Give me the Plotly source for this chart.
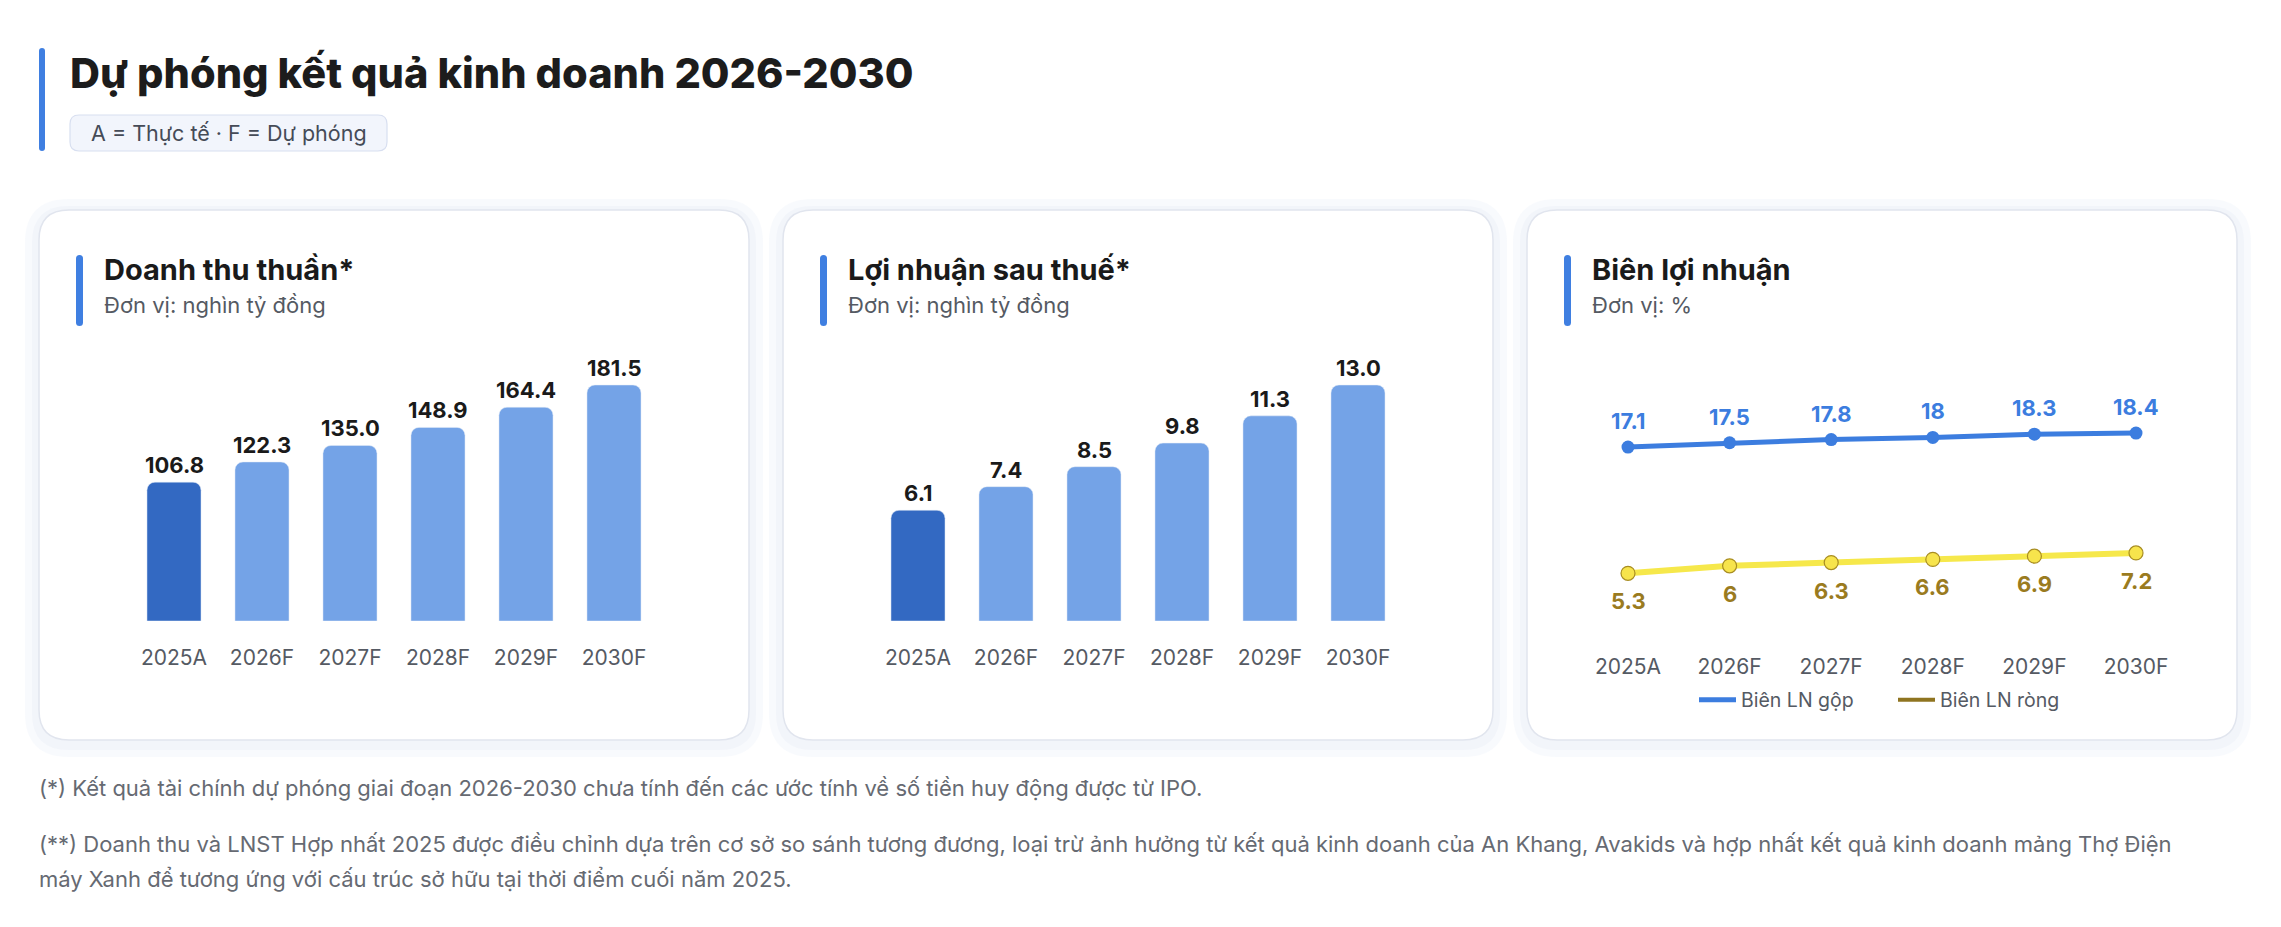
import plotly.graph_objects as go

W, H = 2281, 927

# ---------------- data ----------------
years = ["2025A", "2026F", "2027F", "2028F", "2029F", "2030F"]
revenue = [106.8, 122.3, 135.0, 148.9, 164.4, 181.5]
profit = [6.1, 7.4, 8.5, 9.8, 11.3, 13.0]
gross_margin = [17.1, 17.5, 17.8, 18, 18.3, 18.4]
net_margin = [5.3, 6, 6.3, 6.6, 6.9, 7.2]

main_title = "Dự phóng kết quả kinh doanh 2026-2030"
badge_text = "A = Thực tế · F = Dự phóng"
card_titles = ["Doanh thu thuần*", "Lợi nhuận sau thuế*", "Biên lợi nhuận"]
card_units = ["Đơn vị: nghìn tỷ đồng", "Đơn vị: nghìn tỷ đồng", "Đơn vị: %"]
series_names = ["Biên LN gộp", "Biên LN ròng"]
footnote_lines = [
    "(*) Kết quả tài chính dự phóng giai đoạn 2026-2030 chưa tính đến các ước tính về số tiền huy động được từ IPO.",
    "(**) Doanh thu và LNST Hợp nhất 2025 được điều chỉnh dựa trên cơ sở so sánh tương đương, loại trừ ảnh hưởng từ "
    "kết quả kinh doanh của An Khang, Avakids và hợp nhất kết quả kinh doanh mảng Thợ Điện",
    "máy Xanh để tương ứng với cấu trúc sở hữu tại thời điểm cuối năm 2025.",
]

# ---------------- styles ----------------
FONT = "Inter"
DARK_BAR = "#3369c2"
LIGHT_BAR = "#74a3e7"
ACCENT = "#3f7fe1"
BLUE = "#3c7ddf"
YELLOW = "#f6e84b"
GOLD = "#9a7b1f"
GOLD_LEG = "#8f7420"


def px(x):
    return x / W


def py(y):
    return 1 - y / H


def rrect(x0, y0, x1, y1, r):
    rx, ry = r / W, r / H
    X0, X1, Y0, Y1 = px(x0), px(x1), py(y0), py(y1)
    return (f"M{X0+rx},{Y0} L{X1-rx},{Y0} Q{X1},{Y0} {X1},{Y0-ry} "
            f"L{X1},{Y1+ry} Q{X1},{Y1} {X1-rx},{Y1} L{X0+rx},{Y1} "
            f"Q{X0},{Y1} {X0},{Y1+ry} L{X0},{Y0-ry} Q{X0},{Y0} {X0+rx},{Y0} Z")


fig = go.Figure()

# bars
bar_colors = [DARK_BAR if y.endswith("A") else LIGHT_BAR for y in years]
fig.add_trace(go.Bar(x=years, y=revenue, marker=dict(color=bar_colors, cornerradius=8),
                     xaxis="x", yaxis="y", showlegend=False, hoverinfo="skip"))
fig.add_trace(go.Bar(x=years, y=profit, marker=dict(color=bar_colors, cornerradius=8),
                     xaxis="x2", yaxis="y2", showlegend=False, hoverinfo="skip"))

# lines
fig.add_trace(go.Scatter(x=years, y=gross_margin, mode="lines", name=series_names[0],
                         line=dict(color=BLUE, width=5), xaxis="x3", yaxis="y3",
                         hoverinfo="skip"))
fig.add_trace(go.Scatter(x=years, y=net_margin, mode="lines", name=series_names[1],
                         line=dict(color=GOLD_LEG, width=4), xaxis="x3", yaxis="y3",
                         hoverinfo="skip"))
fig.add_trace(go.Scatter(x=years, y=net_margin, mode="lines", showlegend=False,
                         line=dict(color=YELLOW, width=6), xaxis="x3", yaxis="y3",
                         hoverinfo="skip"))
fig.add_trace(go.Scatter(x=years, y=gross_margin, mode="markers", showlegend=False,
                         marker=dict(color=BLUE, size=13), xaxis="x3", yaxis="y3",
                         hoverinfo="skip"))
fig.add_trace(go.Scatter(x=years, y=net_margin, mode="markers", showlegend=False,
                         marker=dict(color="#f7e44c", size=14, line=dict(color="#a88d22", width=1.2)),
                         xaxis="x3", yaxis="y3", hoverinfo="skip"))

annotations = []
# value labels
for xs, ys, ax in [(years, revenue, ""), (years, profit, "2")]:
    for x, v in zip(xs, ys):
        annotations.append(dict(x=x, y=v, xref="x" + ax, yref="y" + ax, text=f"{v:.1f}",
                                showarrow=False, yanchor="middle", yshift=17,
                                font=dict(family=FONT, size=22, color="#1a1a1a", weight=700)))
for x, v in zip(years, gross_margin):
    annotations.append(dict(x=x, y=v, xref="x3", yref="y3", text=f"{v:g}", showarrow=False,
                            yanchor="middle", yshift=26,
                            font=dict(family=FONT, size=22, color=BLUE, weight=700)))
for x, v in zip(years, net_margin):
    annotations.append(dict(x=x, y=v, xref="x3", yref="y3", text=f"{v:g}", showarrow=False,
                            yanchor="middle", yshift=-28,
                            font=dict(family=FONT, size=22, color=GOLD, weight=700)))

# titles / text
annotations.append(dict(x=px(68), y=py(73), xref="paper", yref="paper", text=main_title,
                        showarrow=False, xanchor="left", yanchor="middle",
                        font=dict(family=FONT, size=41.5, color="#1c1c1c", weight=800)))
annotations.append(dict(x=px(228.5), y=py(133), xref="paper", yref="paper", text=badge_text,
                        showarrow=False, xanchor="center", yanchor="middle",
                        font=dict(family=FONT, size=21.5, color="#454b57")))
for i in range(3):
    off = i * 744
    annotations.append(dict(x=px(102 + off), y=py(269), xref="paper", yref="paper",
                            text=card_titles[i], showarrow=False, xanchor="left", yanchor="middle",
                            font=dict(family=FONT, size=29, color="#1a1a1a", weight=700)))
    annotations.append(dict(x=px(102 + off), y=py(305), xref="paper", yref="paper",
                            text=card_units[i], showarrow=False, xanchor="left", yanchor="middle",
                            font=dict(family=FONT, size=22, color="#555a63")))
for line, yy in zip(footnote_lines, [788, 844, 879]):
    annotations.append(dict(x=px(37), y=py(yy), xref="paper", yref="paper", text=line,
                            showarrow=False, xanchor="left", yanchor="middle", align="left",
                            font=dict(family=FONT, size=22, color="#666a72")))

# shapes
shapes = []
for i in range(3):
    x0 = 39 + i * 744
    x1 = x0 + 710
    for e, c in [(14, "rgba(240,243,250,0.45)"), (7, "rgba(236,240,248,0.55)")]:
        shapes.append(dict(type="path", path=rrect(x0 - e, 210 - e + 3, x1 + e, 740 + e + 3, 30 + e),
                           xref="paper", yref="paper", fillcolor=c, line=dict(width=0), layer="below"))
    shapes.append(dict(type="path", path=rrect(x0, 210, x1, 740, 30), xref="paper", yref="paper",
                       fillcolor="white", line=dict(color="#e1e5ee", width=1.5), layer="below"))
    shapes.append(dict(type="path", path=rrect(x0 + 37, 255, x0 + 44, 326, 3.5), xref="paper",
                       yref="paper", fillcolor=ACCENT, line=dict(width=0), layer="below"))
# main accent
shapes.append(dict(type="path", path=rrect(39, 48, 45, 151, 3), xref="paper", yref="paper",
                   fillcolor=ACCENT, line=dict(width=0), layer="below"))
# badge
shapes.append(dict(type="path", path=rrect(70, 115, 387, 151, 9), xref="paper", yref="paper",
                   fillcolor="#f2f5fc", line=dict(color="#d8dff0", width=1.2), layer="below"))

ax_common = dict(showgrid=False, zeroline=False, showline=False, ticks="",
                 tickfont=dict(family=FONT, size=21, color="#555a63"),
                 ticklabelstandoff=22, fixedrange=True, type="category", range=[-0.5, 5.5])
ay_common = dict(visible=False, showgrid=False, zeroline=False, fixedrange=True)

fig.update_layout(
    width=W, height=H, autosize=False,
    margin=dict(l=0, r=0, t=0, b=0),
    paper_bgcolor="white", plot_bgcolor="rgba(0,0,0,0)",
    bargap=0.386,
    font=dict(family=FONT),
    xaxis=dict(domain=[px(130), px(658)], anchor="y", **ax_common),
    xaxis2=dict(domain=[px(874), px(1402)], anchor="y2", **ax_common),
    xaxis3=dict(domain=[px(1577.2), px(2186.8)], anchor="y3", **ax_common),
    yaxis=dict(domain=[py(621), py(340)], anchor="x", range=[0, max(revenue) * 281 / 236], **ay_common),
    yaxis2=dict(domain=[py(621), py(340)], anchor="x2", range=[0, max(profit) * 281 / 236], **ay_common),
    yaxis3=dict(domain=[py(630), py(340)], anchor="x3", range=[0, (630 - 340) / 10.7], **ay_common),
    legend=dict(orientation="h", x=px(1893), xanchor="center", y=py(700), yanchor="middle",
                itemwidth=37, entrywidth=147,
                font=dict(family=FONT, size=19.5, color="#555a63"), bgcolor="rgba(0,0,0,0)"),
    annotations=annotations,
    shapes=shapes,
)

fig.write_html("out.html")
